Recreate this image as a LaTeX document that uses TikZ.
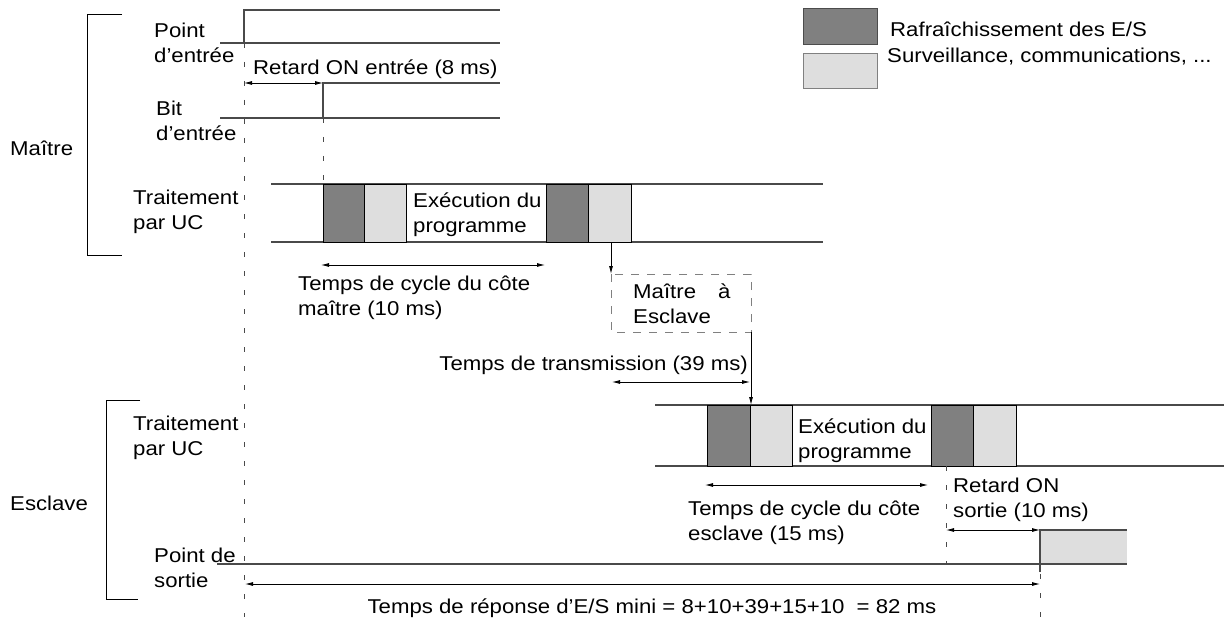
\documentclass[tikz,border=0pt]{standalone}
\usepackage{fontspec}
\setmainfont[FakeStretch=1.11]{Liberation Sans}
\usetikzlibrary{arrows.meta}
\definecolor{dkfill}{HTML}{808080}
\definecolor{ltfill}{HTML}{DEDEDE}
\definecolor{linec}{HTML}{4A4A4A}
\begin{document}
\begin{tikzpicture}[x=1pt,y=-1pt,
  txt/.style={anchor=base west, inner sep=0pt, align=left, font=\fontsize{20}{25}\selectfont},
  sig/.style={draw=linec, line width=1.2pt},
  brk/.style={draw=black, line width=1pt},
  guide/.style={draw=linec, line width=0.8pt, dash pattern=on 5pt off 14pt},
  dimarr/.style={draw=black, line width=0.8pt, {Latex[length=8pt,width=4pt]}-{Latex[length=8pt,width=4pt]}},
  onearr/.style={draw=black, line width=0.8pt, -{Latex[length=8pt,width=4pt]}},
  dkbox/.style={fill=dkfill, draw=black, line width=0.8pt},
  ltbox/.style={fill=ltfill, draw=black, line width=0.8pt},
  dashbox/.style={draw=gray, line width=0.8pt, dash pattern=on 8pt off 8pt},
]
\useasboundingbox (0,0) rectangle (1226,623);

% legend
\draw[fill=dkfill, draw=black!70, line width=0.6pt] (803,8) rectangle (877,44);
\draw[fill=ltfill, draw=black!50, line width=0.6pt] (803,53) rectangle (877,88);
\node[txt] (lg1) at (890,37) {Rafraîchissement des E/S};
\node[txt] (lg2) at (887,63) {Surveillance, communications, ...};

% brackets and group labels
\draw[brk] (122,15) -- (87,15) -- (87,255) -- (122,255);
\draw[brk] (140,400) -- (106,400) -- (106,599) -- (138,599);
\node[txt] (maitre) at (10,156) {Maître};
\node[txt] (esclave) at (10,510) {Esclave};

% row labels (anchor = baseline of last line)
\node[txt] (pe) at (154,63) {Point\\d’entrée};
\node[txt] (be) at (156,141) {Bit\\d’entrée};
\node[txt] (tm) at (133,229) {Traitement\\par UC};
\node[txt] (ts) at (133,455) {Traitement\\par UC};
\node[txt] (ps) at (154,587) {Point de\\sortie};

% main guide
\draw[guide] (244,43) -- (244,617);

% point d'entree
\draw[sig] (220,43) -- (500,43);
\draw[sig] (244,43) -- (244,10) -- (500,10);
% bit d'entree
\draw[sig] (220,118) -- (500,118);
\draw[sig] (323,118) -- (323,83) -- (500,83);
\coordinate (r1a) at (244,83);
\coordinate (r1b) at (323,83);
\draw[dimarr] (r1a) -- (r1b);
\node[txt] (retard1) at (253,75) {Retard ON entrée (8 ms)};
\draw[guide] (323,118) -- (323,184);

% master CPU
\draw[sig] (271,184) -- (823,184);
\draw[sig] (271,242) -- (823,242);
\draw[dkbox] (323,184) rectangle (364,242);
\draw[ltbox] (364,184) rectangle (406,242);
\draw[dkbox] (546,184) rectangle (588,242);
\draw[ltbox] (588,184) rectangle (631,242);
\node[txt] (exm) at (413,232) {Exécution du\\programme};
\coordinate (cm1) at (321,265);
\coordinate (cm2) at (545,265);
\draw[dimarr] (cm1) -- (cm2);
\node[txt] (tcm) at (298,315) {Temps de cycle du côte\\maître (10 ms)};

% master -> slave
\coordinate (d1) at (611,242);
\draw[dashbox] (611,274) rectangle (751,332);
\coordinate (d2) at (611,274);
\draw[onearr] (d1) -- (d2);
\node[txt] (mae) at (633,323) {Maître\hspace{22pt}à\\Esclave};
\coordinate (t1) at (751,332);
\coordinate (t2) at (751,405);
\draw[onearr] (t1) -- (t2);
\coordinate (tr1) at (612,382);
\coordinate (tr2) at (750,382);
\draw[dimarr] (tr1) -- (tr2);
\node[txt, anchor=base east] (trans) at (748,370) {Temps de transmission (39 ms)};

% slave CPU
\draw[sig] (655,405) -- (1224,405);
\draw[sig] (655,466) -- (1224,466);
\draw[dkbox] (707,405) rectangle (750,466);
\draw[ltbox] (750,405) rectangle (792,466);
\draw[dkbox] (931,405) rectangle (973,466);
\draw[ltbox] (973,405) rectangle (1016,466);
\node[txt] (exs) at (798,458) {Exécution du\\programme};
\coordinate (cs1) at (705,485);
\coordinate (cs2) at (928,485);
\draw[dimarr] (cs1) -- (cs2);
\node[txt] (tcs) at (688,540) {Temps de cycle du côte\\esclave (15 ms)};

% output
\draw[guide] (946,466) -- (946,564);
\node[txt] (retard2) at (953,517) {Retard ON\\sortie (10 ms)};
\coordinate (ro1) at (946,530);
\coordinate (ro2) at (1040,530);
\draw[dimarr] (ro1) -- (ro2);
\fill[ltfill] (1040,530) rectangle (1127,564);
\draw[sig] (1040,572) -- (1040,530) -- (1127,530);
\draw[sig] (217,564) -- (1127,564);

% total
\coordinate (b1) at (245,584);
\coordinate (b2) at (1040,584);
\draw[dimarr] (b1) -- (b2);
\draw[guide] (1040,574) -- (1040,617);
\node[txt, anchor=base] (total) at (652,613) {Temps de réponse d’E/S mini = 8+10+39+15+10\hspace{6pt} = 82 ms};
\end{tikzpicture}
\end{document}
